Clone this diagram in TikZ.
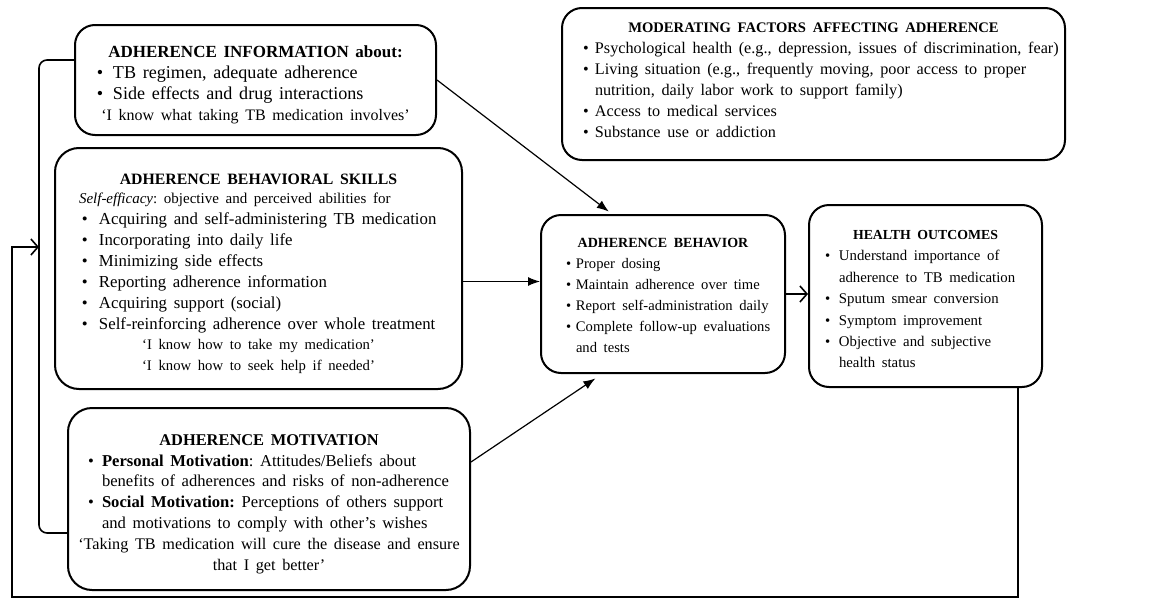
\documentclass[tikz,border=0pt]{standalone}
\usepackage{fontspec}
\setmainfont{Liberation Serif}
\usetikzlibrary{arrows.meta}
\frenchspacing

\newcommand{\hd}[1]{\par\noindent\hbox to\linewidth{\hss\bfseries #1\hss}\par}
\newcommand{\qt}[1]{\par\noindent\hbox to\linewidth{\hss #1\hss}\par}
\newcommand{\bl}[2]{\par\noindent\hbox{\hbox to #1{\textbullet\hfil}#2}\par}
\newcommand{\bx}[2]{\par\noindent\hbox{\hskip #1#2}\par}

\tikzset{
	box/.style={draw, line width=1pt, rounded corners=10pt, inner xsep=0pt, inner ysep=0pt},
	fwd/.style={-{Latex[length=6pt,width=4.5pt]}, line width=0.6pt},
	opn/.style={-{Straight Barb[length=3.5pt,width=8pt]}, line width=0.8pt},
	brk/.style={line width=0.8pt, rounded corners=4pt}
}

\begin{document}
\begin{tikzpicture}[x=0.5pt,y=-0.5pt]
	\useasboundingbox (0,0) rectangle (1153,600);

	\node[box, minimum width=180.5pt, minimum height=55pt, text width=158.5pt] (info) at (255.5,80)
	{
		\fontsize{8.5}{10.5}\selectfont\hd{ADHERENCE INFORMATION about:}
		\fontsize{9.05}{10.5}\selectfont
		\bl{8pt}{TB regimen, adequate adherence}
		\bl{8pt}{Side effects and drug interactions}
		\fontsize{8}{10.5}\selectfont\qt{‘I know what taking TB medication involves’}
	};

	\node[box, minimum width=251.5pt, minimum height=76pt, text width=230.5pt] (moder) at (813.5,84)
	{
		\fontsize{7.3}{10.5}\selectfont\hd{MODERATING FACTORS AFFECTING ADHERENCE}
		\fontsize{8.1}{10.5}\selectfont
		\bl{6pt}{Psychological health (e.g., depression, issues of discrimination, fear)}
		\bl{6pt}{Living situation (e.g., frequently moving, poor access to proper}
		\bx{6pt}{nutrition, daily labor work to support family)}
		\bl{6pt}{Access to medical services}
		\bl{6pt}{Substance use or addiction}
		\par\kern9pt
	};

	\node[box, rounded corners=12pt, minimum width=203.5pt, minimum height=120.5pt, text width=176.5pt] (skills) at (258.5,268.5)
	{
		\fontsize{7.9}{10.5}\selectfont\hd{ADHERENCE BEHAVIORAL SKILLS}
		\fontsize{7.5}{9.5}\selectfont\noindent\hbox{\hskip-1.5pt\textit{Self-efficacy}: objective and perceived abilities for}\par
		\fontsize{8.4}{10.5}\selectfont
		\bl{8.5pt}{Acquiring and self-administering TB medication}
		\bl{8.5pt}{Incorporating into daily life}
		\bl{8.5pt}{Minimizing side effects}
		\bl{8.5pt}{Reporting adherence information}
		\bl{8.5pt}{Acquiring support (social)}
		\bl{8.5pt}{Self-reinforcing adherence over whole treatment}
		\fontsize{7.35}{10.3}\selectfont
		\qt{‘I know how to take my medication’}
		\qt{‘I know how to seek help if needed’}
	};

	\node[box, rounded corners=12pt, minimum width=201pt, minimum height=91pt, text width=181pt] (motiv) at (269,499)
	{
		\fontsize{8.2}{10.5}\selectfont\hd{ADHERENCE MOTIVATION}
		\fontsize{8.3}{10.4}\selectfont
		\bl{7pt}{\textbf{Personal Motivation}: Attitudes/Beliefs about}
		\bx{7pt}{benefits of adherences and risks of non-adherence}
		\bl{7pt}{\textbf{Social Motivation:} Perceptions of others support}
		\bx{7pt}{and motivations to comply with other’s wishes}
		\fontsize{8.1}{10.4}\selectfont
		\qt{‘Taking TB medication will cure the disease and ensure}
		\qt{that I get better’}
	};

	\node[box, minimum width=122pt, minimum height=79pt, text width=97pt] (behav) at (663,294)
	{
		\fontsize{7}{10.5}\selectfont\hd{ADHERENCE BEHAVIOR}
		\fontsize{7.3}{10.5}\selectfont
		\bl{5pt}{Proper dosing}
		\bl{5pt}{Maintain adherence over time}
		\bl{5pt}{Report self-administration daily}
		\bl{5pt}{Complete follow-up evaluations}
		\bx{5pt}{and tests}
		\par\kern4pt
	};

	\node[box, minimum width=116.5pt, minimum height=91pt, text width=100.5pt] (outc) at (925.5,296)
	{
		\fontsize{6.9}{10.7}\selectfont\hd{HEALTH OUTCOMES}
		\fontsize{7.4}{10.7}\selectfont
		\bl{7pt}{Understand importance of}
		\bx{7pt}{adherence to TB medication}
		\bl{7pt}{Sputum smear conversion}
		\bl{7pt}{Symptom improvement}
		\bl{7pt}{Objective and subjective}
		\bx{7pt}{health status}
		\par\kern3pt
	};

	\coordinate (brkx) at (39,247);
	\coordinate (fbl) at (12,597);

	\draw[brk] ([yshift=10pt]info.west) -| (brkx) |- ([yshift=-17pt]motiv.west);
	\draw[opn] ([xshift=46.25pt]outc.south) |- (fbl) |- (brkx);

	\draw[fwd, shorten >=2pt] (info.east) -- ([xshift=-25.5pt]behav.north);
	\draw[fwd] ([yshift=-6.5pt]skills.east) -- ([yshift=-6.5pt]skills.east -| behav.west);
	\draw[fwd, shorten >=4pt] ([yshift=18.5pt]motiv.east) -- ([xshift=-30.5pt]behav.south);
	\draw[opn] (behav.east) -- (behav.east -| outc.west);
\end{tikzpicture}
\end{document}
